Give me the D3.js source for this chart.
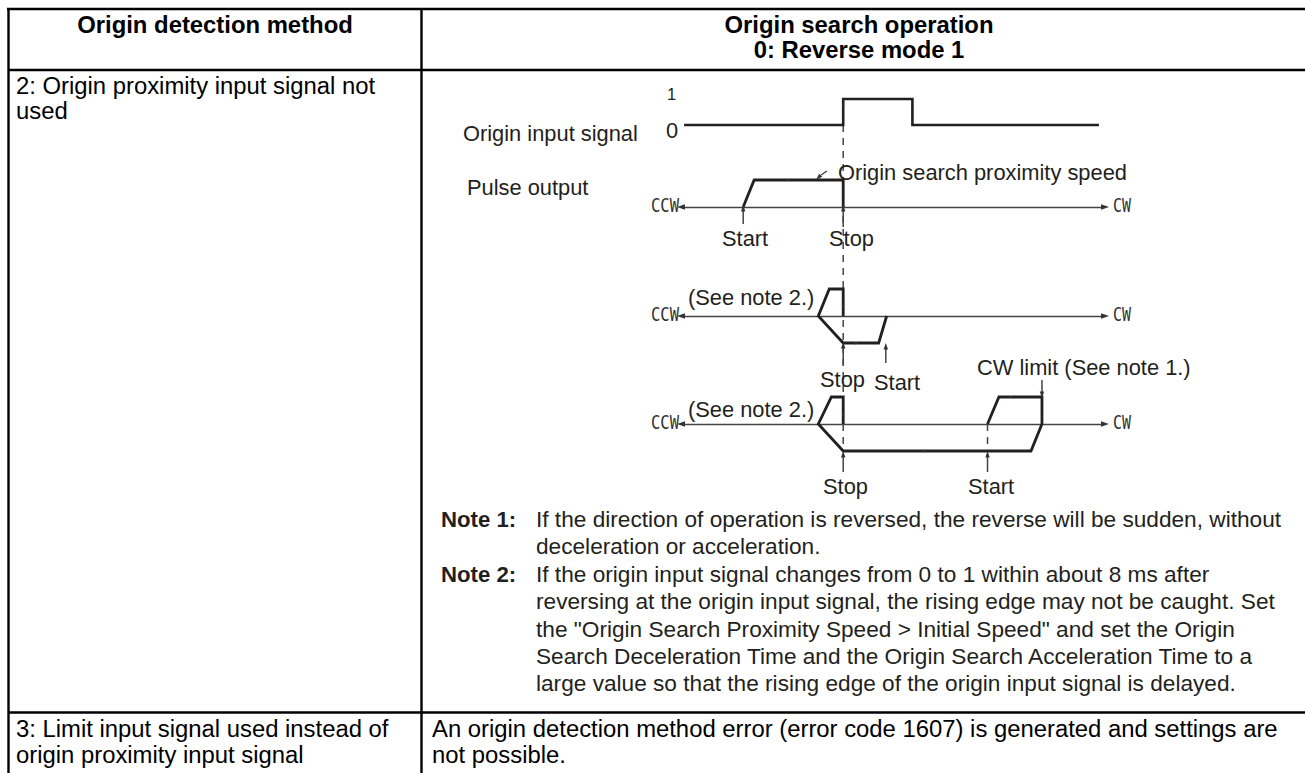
<!DOCTYPE html>
<html>
<head>
<meta charset="utf-8">
<script src="https://cdn.jsdelivr.net/npm/d3@7"></script>
<style>
  body { margin: 0; background: #fff; }
  text { font-family: "Liberation Sans", Arial, sans-serif; }
</style>
</head>
<body>
<div id="chart"></div>
<script>
// Values. Time runs 0-100 along the CCW-CW axis,
// speed runs -1 to 1 about each axis.
var panels = ["first", "second", "third"];

var signalTime = [0.5, 38.2, 38.2, 54.6, 54.6, 98.8];
var signalLevel = [0, 0, 1, 1, 0, 0];

var pulse1Time = [14.5, 17.1, 38.2, 38.2];
var pulse1Speed = [0, 1, 1, 0];

var pulse2Time = [38.2, 38.2, 34.9, 32.3, 38.2, 46.6, 48.5];
var pulse2Speed = [0, 1, 1, 0, -1, -1, 0];

var pulse3Time = [38.2, 38.2, 35.4, 32.3, 38.2, 82.7, 85.3, 85.3, 75.1, 72.4];
var pulse3Speed = [0, 1, 1, 0, -1, -1, 0, 1, 1, 0];

var headerLeft = ["Origin detection method"];
var headerRight = ["Origin search operation", "0: Reverse mode 1"];
var row2Left = ["2: Origin proximity input signal not", "used"];
var row3Left = ["3: Limit input signal used instead of", "origin proximity input signal"];
var row3Right = ["An origin detection method error (error code 1607) is generated and settings are", "not possible."];
var note1Lines = [
    "If the direction of operation is reversed, the reverse will be sudden, without",
    "deceleration or acceleration."
];
var note2Lines = [
    "If the origin input signal changes from 0 to 1 within about 8 ms after",
    "reversing at the origin input signal, the rising edge may not be caught. Set",
    "the \"Origin Search Proximity Speed > Initial Speed\" and set the Origin",
    "Search Deceleration Time and the Origin Search Acceleration Time to a",
    "large value so that the rising edge of the origin input signal is delayed."
];

var svgWidth = 1305;
var svgHeight = 773;
var ink = "#231f20";

var svg = d3.select("#chart")
    .append("svg")
    .attr("width", svgWidth)
    .attr("height", svgHeight)
    .style("display", "block");

svg.append("rect")
    .attr("width", svgWidth)
    .attr("height", svgHeight)
    .attr("fill", "#fff");

// scales
var xScale = d3.scaleLinear().domain([0, 100]).range([682, 1104]);
var signalScale = d3.scaleLinear().domain([0, 1]).range([125, 99]);
var panelScale = d3.scaleOrdinal().domain(panels).range([207, 316, 424]);
var speedScale = d3.scaleLinear().domain([-1, 1]).range([27, -27]);

// table rules
var ruleGroup = svg.append("g").attr("stroke", "#000").attr("stroke-width", 2.4);
[[7, 9, svgWidth, 9], [8, 70, svgWidth, 70], [8, 712.5, svgWidth, 712.5],
 [8.5, 9, 8.5, svgHeight], [421.5, 9, 421.5, svgHeight]].forEach(function(r) {
    ruleGroup.append("line")
        .attr("x1", r[0]).attr("y1", r[1])
        .attr("x2", r[2]).attr("y2", r[3]);
});

// write lines of text starting at a baseline
function writeLines(lines, x, y, step, opts) {
    opts = opts || {};
    svg.append("g").selectAll("text")
        .data(lines)
        .enter()
        .append("text")
        .attr("x", x)
        .attr("y", function(d, i) { return y + i * step; })
        .attr("text-anchor", opts.anchor || "start")
        .attr("font-size", (opts.size || 23.85) + "px")
        .attr("font-weight", opts.bold ? "bold" : "normal")
        .attr("fill", opts.fill || "#000")
        .text(function(d) { return d; });
}

writeLines(headerLeft, 215, 33, 0, {bold: true, anchor: "middle"});
writeLines(headerRight, 859, 33, 25, {bold: true, anchor: "middle"});
writeLines(row2Left, 16, 94, 25);
writeLines(row3Left, 16, 737, 26);
writeLines(row3Right, 432, 737, 26);

writeLines(["Note 1:"], 441, 527, 0, {bold: true, fill: ink, size: 22.2});
writeLines(note1Lines, 536, 527, 27, {fill: ink, size: 22.65});
writeLines(["Note 2:"], 441, 582, 0, {bold: true, fill: ink, size: 22.2});
writeLines(note2Lines, 536, 582, 27.3, {fill: ink, size: 22.65});

// dashed guides
var guideGroup = svg.append("g")
    .attr("stroke", "#444")
    .attr("stroke-width", 1.5)
    .attr("stroke-dasharray", "7 6");
guideGroup.append("line")
    .attr("x1", xScale(38.2)).attr("x2", xScale(38.2))
    .attr("y1", signalScale(0)).attr("y2", panelScale("third") + speedScale(-1));
guideGroup.append("line")
    .attr("x1", xScale(72.4)).attr("x2", xScale(72.4))
    .attr("y1", panelScale("third")).attr("y2", panelScale("third") + speedScale(-1));

// CCW-CW axes
var xAxis = d3.axisBottom(xScale).tickValues([]).tickSizeOuter(0);
panels.forEach(function(p) {
    var axisGroup = svg.append("g")
        .attr("transform", "translate(0," + panelScale(p) + ")")
        .call(xAxis);
    axisGroup.select(".domain").attr("stroke", "#444").attr("stroke-width", 1.5);
    triangle(xScale(0), panelScale(p), 180, 5);
    triangle(xScale(100), panelScale(p), 0, 5);

    [["CCW", 651, 28], ["CW", 1113, 18]].forEach(function(lab) {
        svg.append("text")
            .attr("x", lab[1])
            .attr("y", panelScale(p) + 5)
            .attr("textLength", lab[2])
            .attr("lengthAdjust", "spacingAndGlyphs")
            .style("font-family", "'DejaVu Sans Mono'")
            .attr("font-size", "19px")
            .attr("fill", "#333")
            .text(lab[0]);
    });
});

// small solid arrow head, pointing along angle (degrees)
function triangle(x, y, angle, size) {
    svg.append("path")
        .attr("d", "M" + size + ",0L" + (-size * 0.6) + "," + (-size * 0.55) + "L" + (-size * 0.6) + "," + (size * 0.55) + "Z")
        .attr("transform", "translate(" + x + "," + y + ") rotate(" + angle + ")")
        .attr("fill", "#333");
}

// upward or downward pointer ending at the mark
function pointer(x, yFrom, yTo) {
    svg.append("line")
        .attr("x1", x).attr("x2", x)
        .attr("y1", yFrom).attr("y2", yTo)
        .attr("stroke", "#444")
        .attr("stroke-width", 1.5);
    triangle(x, yTo, yTo < yFrom ? -90 : 90, 4);
}

// signal and pulse traces
var signalLine = d3.line()
    .x(function(d) { return xScale(d[0]); })
    .y(function(d) { return signalScale(d[1]); });

svg.append("path")
    .attr("d", signalLine(d3.zip(signalTime, signalLevel)))
    .attr("fill", "none")
    .attr("stroke", ink)
    .attr("stroke-width", 2.6);

function drawPulse(panel, times, speeds) {
    var pulseLine = d3.line()
        .x(function(d) { return xScale(d[0]); })
        .y(function(d) { return panelScale(panel) + speedScale(d[1]); });
    svg.append("path")
        .attr("d", pulseLine(d3.zip(times, speeds)))
        .attr("fill", "none")
        .attr("stroke", ink)
        .attr("stroke-width", 2.8)
        .attr("stroke-linejoin", "miter");
}

drawPulse("first", pulse1Time, pulse1Speed);
drawPulse("second", pulse2Time, pulse2Speed);
drawPulse("third", pulse3Time, pulse3Speed);

// direction marks sitting on the traces
triangle(xScale(25.2), panelScale("first") + speedScale(1), 180, 2.5);
triangle(xScale(41.3), panelScale("second") + speedScale(-1), 0, 2.5);
triangle(xScale(57.5), panelScale("third") + speedScale(-1), 0, 2.5);
triangle(xScale(77.9), panelScale("third") + speedScale(1), 180, 2.5);
triangle(xScale(38.2), signalScale(0.75), -90, 2.5);
triangle(xScale(38.2), panelScale("first") + speedScale(0), 90, 2.5);
triangle(xScale(38.2), panelScale("second") + speedScale(0.35), 90, 2.5);
triangle(xScale(38.2), panelScale("third") + speedScale(0.35), 90, 2.5);

// start / stop pointers
pointer(xScale(14.5), 224, panelScale("first") + 2);
pointer(xScale(38.2), 227, panelScale("first") + 2);
pointer(xScale(38.2), 365, panelScale("second") + speedScale(-1) + 3);
pointer(xScale(48.3), 363, panelScale("second") + speedScale(-1) + 4);
pointer(xScale(38.2), 472, panelScale("third") + speedScale(-1) + 4);
pointer(xScale(72.4), 472, panelScale("third") + speedScale(-1) + 4);
pointer(xScale(85.3), 380, panelScale("third") + speedScale(1) - 3);

// speed leader
svg.append("line")
    .attr("x1", 827).attr("y1", 171).attr("x2", 821).attr("y2", 175)
    .attr("stroke", "#333").attr("stroke-width", 1.2);
triangle(819, 177, 135, 4);

// diagram labels
var diagramOpts = {size: 21.85, fill: ink};
writeLines(["Origin input signal"], 463, 141, 0, diagramOpts);
writeLines(["Pulse output"], 467, 195, 0, diagramOpts);
writeLines(["0"], 666, 137.5, 0, diagramOpts);
writeLines(["1"], 667, 100, 0, {size: 16.5, fill: ink});
writeLines(["Origin search proximity speed"], 838, 180, 0, diagramOpts);
writeLines(["Start"], 722, 246, 0, diagramOpts);
writeLines(["Stop"], 829, 246, 0, diagramOpts);
writeLines(["(See note 2.)"], 688, 305, 0, diagramOpts);
writeLines(["Stop"], 820, 387, 0, diagramOpts);
writeLines(["Start"], 874, 390, 0, diagramOpts);
writeLines(["CW limit (See note 1.)"], 977, 375, 0, diagramOpts);
writeLines(["(See note 2.)"], 688, 417, 0, diagramOpts);
writeLines(["Stop"], 823, 494, 0, diagramOpts);
writeLines(["Start"], 968, 494, 0, diagramOpts);
</script>
</body>
</html>
